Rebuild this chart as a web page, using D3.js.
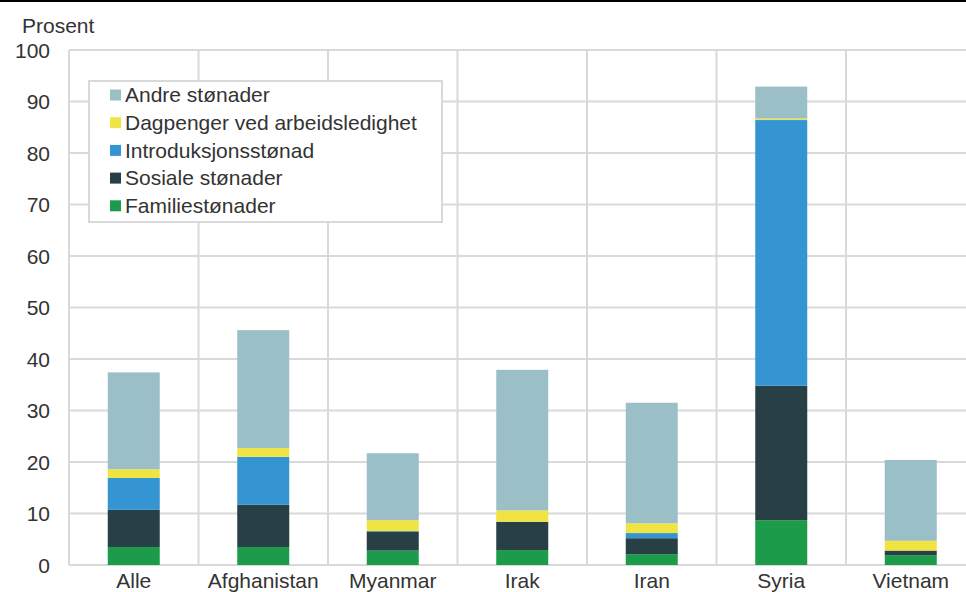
<!DOCTYPE html>
<html><head><meta charset="utf-8">
<script src="https://cdn.jsdelivr.net/npm/d3@7"></script>
<style>body{margin:0;background:#fff;} text{font-family:"Liberation Sans",Arial,sans-serif;fill:#333;}</style>
</head><body>
<svg id="c" width="966" height="592"></svg>
<script>
const categories = ["Alle","Afghanistan","Myanmar","Irak","Iran","Syria","Vietnam"];
const familie   = [3.5, 3.5, 2.8, 2.9, 2.1, 8.7, 1.9];
const sosiale   = [7.2, 8.2, 3.7, 5.5, 3.1, 26.1, 0.9];
const intro     = [6.2, 9.3, 0.1, 0.0, 1.0, 51.6, 0.0];
const dagpenger = [1.7, 1.7, 2.1, 2.2, 1.9, 0.3, 1.9];
const andre     = [18.8, 22.9, 13.0, 27.3, 23.4, 6.2, 15.7];
const seriesNames = ["Familiestønader","Sosiale stønader","Introduksjonsstønad","Dagpenger ved arbeidsledighet","Andre stønader"];
const seriesColors = ["#1c9c4b","#283f45","#3595d3","#f0e442","#9bbfc7"];
const yTicks = [0,10,20,30,40,50,60,70,80,90,100];

const FS = 21;
const svg = d3.select("#c");
const m = {left:69, top:50, bottom:565};
const bandW = 129.5;
const x = d3.scaleBand().domain(categories).range([m.left, m.left + bandW*categories.length]).paddingInner(0).paddingOuter(0);
const y = d3.scaleLinear().domain([0,100]).range([m.bottom, m.top]);

// top black line
svg.append("line").attr("x1",0).attr("x2",966).attr("y1",1).attr("y2",1).attr("stroke","#000").attr("stroke-width",2);

const grid = "#d9d9d9";
svg.append("g").selectAll("line").data(yTicks).join("line")
  .attr("x1",m.left).attr("x2",m.left + bandW*categories.length)
  .attr("y1",d=>y(d)).attr("y2",d=>y(d)).attr("stroke",grid).attr("stroke-width",2);
const vx = categories.map(c=>x(c)).concat([x(categories[categories.length-1])+x.bandwidth()]);
svg.append("g").selectAll("line").data(vx).join("line")
  .attr("x1",d=>d).attr("x2",d=>d).attr("y1",y(100)).attr("y2",y(0))
  .attr("stroke",grid).attr("stroke-width",2);

// stacked bars
const rows = categories.map((c,i)=>({cat:c, s0:familie[i], s1:sosiale[i], s2:intro[i], s3:dagpenger[i], s4:andre[i]}));
const stack = d3.stack().keys(["s0","s1","s2","s3","s4"])(rows);
const bw = 52;
svg.append("g").selectAll("g").data(stack).join("g").attr("fill",(d,i)=>seriesColors[i])
  .selectAll("rect").data(d=>d).join("rect")
  .attr("x",d=>x(d.data.cat)+x.bandwidth()/2-bw/2).attr("width",bw)
  .attr("y",d=>y(d[1])).attr("height",d=>Math.max(0,y(d[0])-y(d[1])));

// y axis labels
const yAxis = d3.axisLeft(y).tickValues(yTicks).tickSize(0).tickPadding(0);
const ya = svg.append("g").attr("transform","translate(50,0)").call(yAxis);
ya.select(".domain").remove();
ya.selectAll("text").attr("font-size",FS).attr("fill","#333").attr("font-family","Liberation Sans, Arial, sans-serif").attr("x",0).attr("dy","0.35em");

// x axis labels
const xAxis = d3.axisBottom(x).tickSize(0).tickPadding(0);
const xa = svg.append("g").attr("transform","translate(0,588)").call(xAxis);
xa.select(".domain").remove();
xa.selectAll("text").attr("font-size",FS).attr("fill","#333").attr("font-family","Liberation Sans, Arial, sans-serif").attr("y",0).attr("dy",0);

svg.append("text").attr("x",22).attr("y",33).attr("font-size",FS).text("Prosent");

// legend
const lg = svg.append("g");
lg.append("rect").attr("x",89).attr("y",81).attr("width",353).attr("height",141)
  .attr("fill","#fff").attr("stroke",grid).attr("stroke-width",2);
const legOrder = [4,3,2,1,0];
legOrder.forEach((si,k)=>{
  const cy = 95 + k*27.7;
  lg.append("rect").attr("x",110).attr("y",cy-5.5).attr("width",11).attr("height",11).attr("fill",seriesColors[si]);
  lg.append("text").attr("x",125).attr("y",cy).attr("dy","0.35em").attr("font-size",FS).text(seriesNames[si]);
});
</script>
</body></html>
